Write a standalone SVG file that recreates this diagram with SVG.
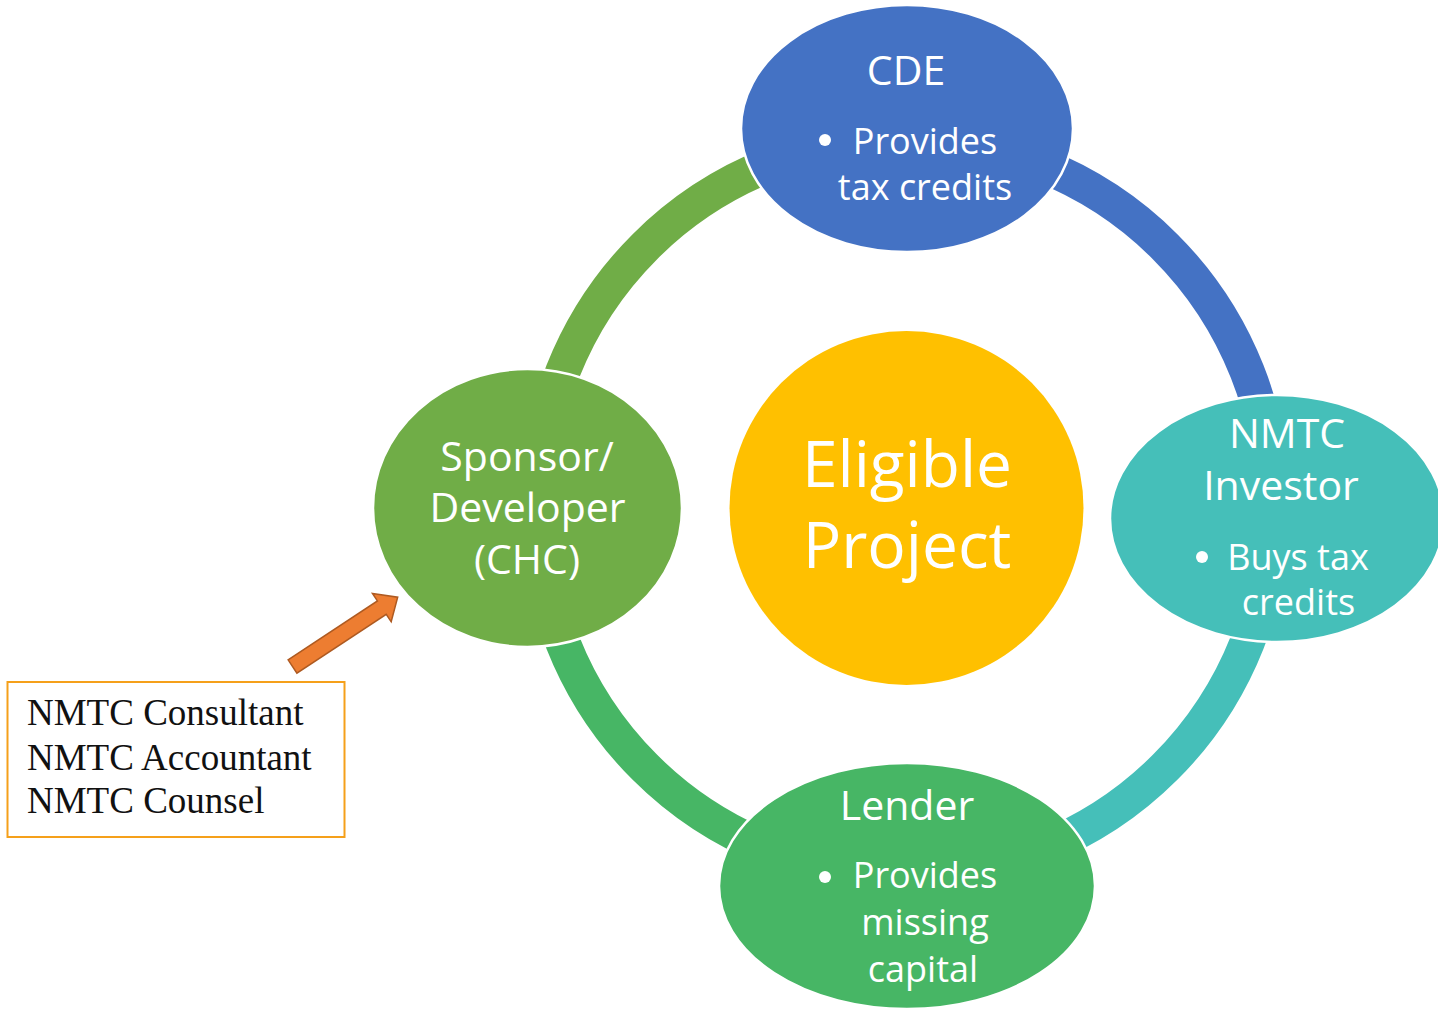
<svg xmlns="http://www.w3.org/2000/svg" width="1438" height="1009" viewBox="0 0 1438 1009">
<style>
.arc{fill:none;stroke-width:35}
.node{stroke:#fff;stroke-width:2.5}
.t{font-family:"Open Sans","Noto Sans",sans-serif;fill:#fff;text-anchor:middle}
.h{font-size:41px}
.b{font-size:36px}
.big{font-size:64px}
.bul{fill:#fff}
.ser{font-family:"Liberation Serif","Times New Roman",serif;font-size:37px;fill:#111}
</style>
<rect width="1438" height="1009" fill="#fff"/>
<g id="connectors">
<path class="arc" stroke="#70AD47" d="M 537 507 A 368 368 0 0 1 905 139"/>
<path class="arc" stroke="#4472C4" d="M 905 139 A 368 368 0 0 1 1273 507"/>
<path class="arc" stroke="#45BFB9" d="M 1273 507 A 368 368 0 0 1 905 875"/>
<path class="arc" stroke="#47B665" d="M 905 875 A 368 368 0 0 1 537 507"/>
<polygon transform="translate(292.5,666.5) rotate(-33.4)" points="0,-8 107,-8 107,-17 126,0 107,17 107,8 0,8" fill="#ED7D31" stroke="#AE5A21" stroke-width="1.5"/>
</g>
<g id="eligible">
<circle cx="906.5" cy="508" r="177" fill="#FFC000"/>
<text class="t big" x="907" y="487">Eligible</text>
<text class="t big" x="907" y="568">Project</text>
</g>
<g id="cde">
<ellipse class="node" cx="907" cy="128.5" rx="166" ry="123.5" fill="#4472C4"/>
<text class="t h" x="906" y="85">CDE</text>
<circle class="bul" cx="825" cy="140" r="6"/>
<text class="t b" x="925" y="154">Provides</text>
<text class="t b" x="925" y="200">tax credits</text>
</g>
<g id="sponsor">
<ellipse class="node" cx="527.5" cy="508" rx="154.5" ry="139" fill="#70AD47"/>
<text class="t h" x="527" y="471">Sponsor/</text>
<text class="t h" x="527.5" y="522">Developer</text>
<text class="t h" x="527" y="574" font-size="40">(CHC)</text>
</g>
<g id="investor">
<ellipse class="node" cx="1277" cy="518.5" rx="167" ry="123.5" fill="#45BFB9"/>
<text class="t h" x="1287" y="448">NMTC</text>
<text class="t h" x="1281" y="500">Investor</text>
<circle class="bul" cx="1202" cy="557" r="6"/>
<text class="t b" x="1298" y="570">Buys tax</text>
<text class="t b" x="1298.5" y="615">credits</text>
</g>
<g id="lender">
<ellipse class="node" cx="907" cy="886" rx="188" ry="123" fill="#47B665"/>
<text class="t h" x="907" y="820">Lender</text>
<circle class="bul" cx="825" cy="877" r="6"/>
<text class="t b" x="925" y="888">Provides</text>
<text class="t b" x="925" y="935">missing</text>
<text class="t b" x="923" y="982">capital</text>
</g>
<g id="team">
<rect x="7.5" y="682" width="337" height="155" fill="#fff" stroke="#F5A01A" stroke-width="2"/>
<text class="ser" x="27" y="725">NMTC Consultant</text>
<text class="ser" x="27" y="770">NMTC Accountant</text>
<text class="ser" x="27" y="813">NMTC Counsel</text>
</g>
</svg>
